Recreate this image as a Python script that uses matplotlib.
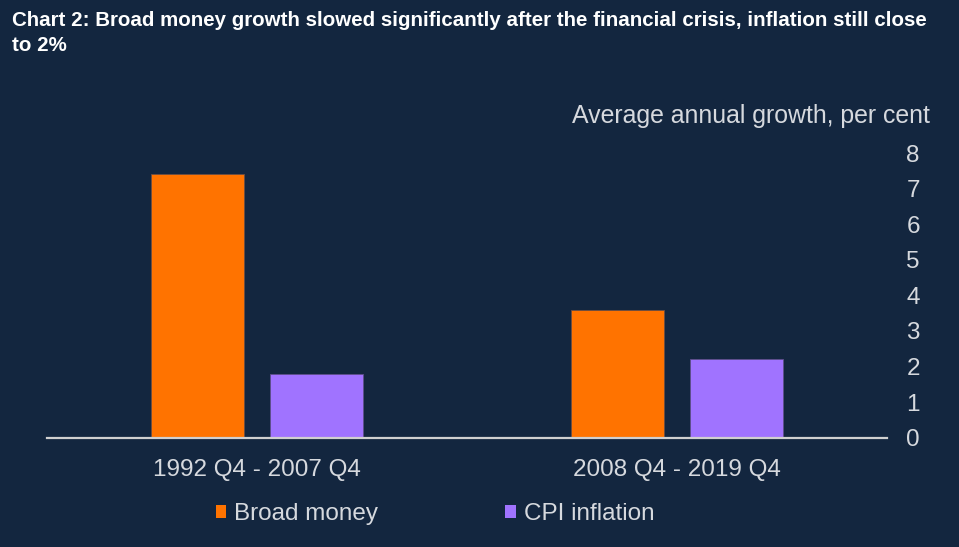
import matplotlib
matplotlib.use("Agg")
import matplotlib.pyplot as plt
import numpy as np
from matplotlib.patches import Patch

categories = ["1992 Q4 - 2007 Q4", "2008 Q4 - 2019 Q4"]
broad_money = [7.4, 3.6]
cpi_inflation = [1.8, 2.2]
series_names = ["Broad money", "CPI inflation"]
yticks = [0, 1, 2, 3, 4, 5, 6, 7, 8]

BG = "#13263f"
ORANGE = "#ff7300"
PURPLE = "#a073ff"
TXT = "#d6d9de"

plt.rcParams["font.family"] = ["Liberation Sans", "DejaVu Sans"]

W, H = 959, 547
fig = plt.figure(figsize=(W / 100, H / 100), dpi=100, facecolor=BG)
x0, x1 = 47, 887
y0, y1 = 437.7, 153
ax = fig.add_axes([x0 / W, 1 - y0 / H, (x1 - x0) / W, (y0 - y1) / H])
ax.set_facecolor(BG)

x = np.arange(len(categories))
bw = 0.223
gap = 0.06
off = (bw + gap) / 2
ax.bar(x - off, broad_money, bw, color=ORANGE, edgecolor="#6a4e45", linewidth=0.6, zorder=2)
ax.bar(x + off, cpi_inflation, bw, color=PURPLE, edgecolor="#5e4f8a", linewidth=0.6, zorder=2)

ax.set_xlim(-0.5, len(categories) - 0.5)
ax.set_ylim(0, 8)
ax.set_yticks(yticks)
ax.yaxis.tick_right()
ax.tick_params(axis="y", length=0, pad=14, labelsize=17.5, labelcolor=TXT)
ax.set_xticks(x)
ax.set_xticklabels(categories)
ax.tick_params(axis="x", length=0, pad=15, labelsize=17.5, labelcolor=TXT)

for s in ["top", "left", "right"]:
    ax.spines[s].set_visible(False)
ax.spines["bottom"].set_color("#d0d0d0")
ax.spines["bottom"].set_linewidth(1.6)
ax.spines["bottom"].set_zorder(3)

fig.text(930 / W, 1 - 116 / H, "Average annual growth, per cent", ha="right", va="center",
         fontsize=17.9, color=TXT)

fig.text(12 / W, 1 - 11 / H,
         "Chart 2: Broad money growth slowed significantly after the financial crisis, inflation still close\nto 2%",
         ha="left", va="top", fontsize=14.8, fontweight="bold", color="white",
         linespacing=1.42)

handles = [Patch(facecolor=ORANGE, edgecolor="none"), Patch(facecolor=PURPLE, edgecolor="none")]
leg = fig.legend(handles, series_names, loc="center", bbox_to_anchor=(435 / W, 1 - 514 / H),
                 ncol=2, frameon=False, fontsize=17.5, handlelength=0.45, handleheight=0.45,
                 handletextpad=0.33, columnspacing=5.2, labelcolor=TXT)

fig.savefig("out.png", dpi=100, facecolor=BG)
